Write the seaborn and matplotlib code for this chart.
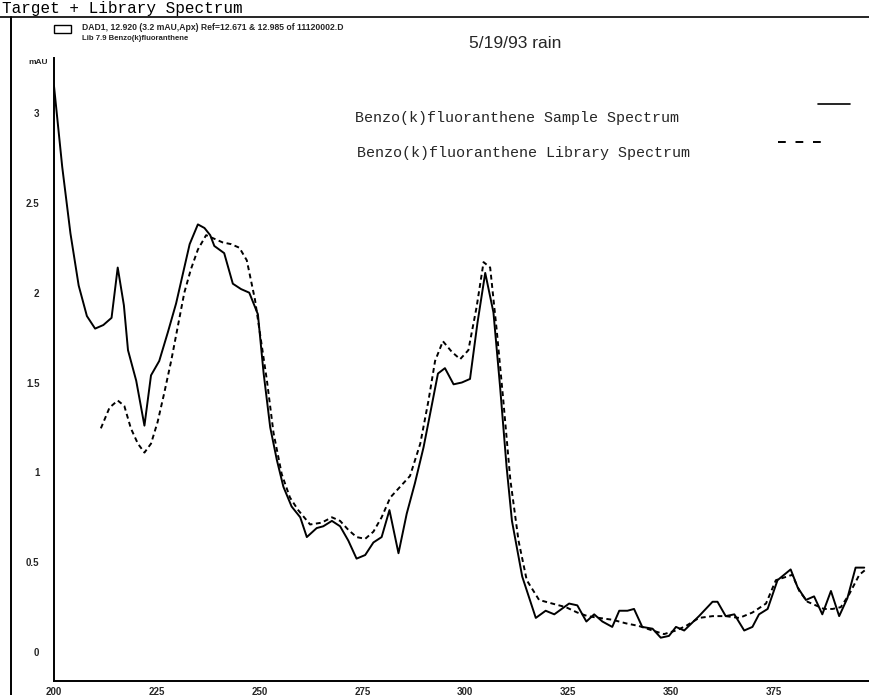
import numpy as np
import pandas as pd
import matplotlib
matplotlib.use("Agg")
import matplotlib.pyplot as plt
from matplotlib.lines import Line2D
from matplotlib.patches import Rectangle
import seaborn as sns

# ---- data ----
sample_nm = [200, 202, 204, 206, 208, 210, 212, 214, 215.5, 217, 218, 220, 222, 223.6,
             225.6, 227.7, 229.7, 231.3, 233, 235, 236.6, 238, 239, 241.4, 243.5, 245.5,
             247.5, 249.6, 251, 252.6, 254.2, 255.8, 257.8, 259.9, 261.5, 263.9, 265.5,
             267.6, 269.6, 271.6, 273.6, 275.7, 277.7, 279.7, 281.6, 283.8, 285.8, 287.8,
             289.9, 291.7, 293.4, 295.1, 297.2, 299.2, 301.2, 303, 304.9, 306.9, 308.5,
             310.1, 311.4, 313.9, 317.2, 319.6, 321.7, 325.3, 327.3, 329.5, 331.4, 333.4,
             335.8, 337.5, 339.5, 341.1, 343.1, 345.6, 347.6, 349.6, 351.3, 353.3, 356.9,
             360.2, 361.4, 363.4, 365.5, 367.9, 369.9, 371.5, 373.6, 376, 379.2, 380.9,
             382.9, 384.9, 386.9, 389, 391, 393, 395, 397.1]
sample_mau = [3.15, 2.70, 2.33, 2.04, 1.87, 1.80, 1.82, 1.86, 2.14, 1.93, 1.68, 1.51, 1.26, 1.54,
              1.62, 1.78, 1.94, 2.10, 2.27, 2.38, 2.36, 2.32, 2.26, 2.22, 2.05, 2.02,
              2.00, 1.88, 1.55, 1.25, 1.07, 0.92, 0.81, 0.75, 0.64, 0.69, 0.70,
              0.73, 0.70, 0.62, 0.52, 0.54, 0.61, 0.64, 0.79, 0.55, 0.77, 0.94,
              1.14, 1.35, 1.55, 1.58, 1.49, 1.50, 1.52, 1.83, 2.11, 1.89, 1.48,
              1.03, 0.73, 0.42, 0.19, 0.23, 0.21, 0.27, 0.26, 0.17, 0.21, 0.17,
              0.14, 0.23, 0.23, 0.24, 0.14, 0.13, 0.08, 0.09, 0.14, 0.12, 0.20,
              0.28, 0.28, 0.20, 0.21, 0.12, 0.14, 0.21, 0.24, 0.40, 0.46, 0.36,
              0.29, 0.31, 0.21, 0.34, 0.20, 0.30, 0.47, 0.47]

library_nm = [211.4, 213.5, 215.5, 217.1, 218.7, 220.4, 222, 223.6, 225.2, 226.8, 228.5,
              230.1, 231.7, 233.3, 235, 237, 239, 241, 243.1, 245.1, 246.9, 248.9,
              251.8, 253.4, 255.4, 257.4, 259.4, 262.3, 265.1, 267.6, 269.6, 271.6,
              273.6, 275.7, 277.7, 279.7, 281.8, 284.2, 286.6, 289.1, 291.1, 292.7,
              294.6, 296.8, 298.8, 300.8, 302.8, 304.5, 306.1, 307.7, 309.3, 311,
              313, 315, 318, 321.2, 324.5, 327.3, 329.8, 332.6, 335.8, 339.1, 342.3,
              345.6, 348.4, 351.3, 353.7, 356.9, 360.2, 363.4, 366.7, 369.9, 373.2,
              375.6, 379.6, 381.3, 383.3, 385.3, 387.3, 389.4, 391.4, 393.4, 395.9, 397.5]
library_mau = [1.245, 1.36, 1.40, 1.37, 1.245, 1.16, 1.11, 1.16, 1.28, 1.44, 1.62,
               1.81, 2.00, 2.13, 2.24, 2.32, 2.30, 2.28, 2.27, 2.25, 2.18, 1.96,
               1.51, 1.22, 0.99, 0.86, 0.79, 0.71, 0.72, 0.75, 0.73, 0.68,
               0.64, 0.63, 0.67, 0.75, 0.86, 0.92, 0.98, 1.16, 1.40, 1.62,
               1.73, 1.67, 1.63, 1.68, 1.92, 2.17, 2.14, 1.79, 1.40, 0.96,
               0.62, 0.40, 0.29, 0.27, 0.25, 0.22, 0.20, 0.19, 0.18, 0.16, 0.145,
               0.12, 0.10, 0.12, 0.145, 0.19, 0.20, 0.20, 0.19, 0.22, 0.27,
               0.40, 0.43, 0.34, 0.28, 0.26, 0.24, 0.24, 0.25, 0.32, 0.43, 0.46]

x_ticks = [200, 225, 250, 275, 300, 325, 350, 375]
x_tick_labels = ["200", "225", "250", "275", "300", "325", "350", "375"]
y_ticks = [0, 0.5, 1, 1.5, 2, 2.5, 3]
y_tick_labels = ["0", "0.5", "1", "1.5", "2", "2.5", "3"]

title_text = "Target + Library Spectrum"
header_line1 = "DAD1, 12.920 (3.2 mAU,Apx) Ref=12.671 & 12.985 of 11120002.D"
header_line2 = "Lib 7.9 Benzo(k)fluoranthene"
date_text = "5/19/93 rain"
legend_sample = "Benzo(k)fluoranthene Sample Spectrum"
legend_library = "Benzo(k)fluoranthene Library Spectrum"
y_unit = "mAU"

# ---- figure ----
sns.set_style("white")
plt.rcParams["font.family"] = ["Liberation Sans", "DejaVu Sans"]

W, H = 870, 695
fig = plt.figure(figsize=(W / 100, H / 100), dpi=100)

def fx(px):
    return px / W

def fy(py):
    return 1 - py / H

ax_left, ax_right, ax_top, ax_bottom = 54, 870, 58, 681
ax = fig.add_axes([fx(ax_left), fy(ax_bottom), (ax_right - ax_left) / W, (ax_bottom - ax_top) / H])

df_s = pd.DataFrame({"nm": sample_nm, "mAU": sample_mau})
df_l = pd.DataFrame({"nm": library_nm, "mAU": library_mau})

sns.lineplot(data=df_s, x="nm", y="mAU", ax=ax, color="black", lw=1.4,
             sort=False, estimator=None)
sns.lineplot(data=df_l, x="nm", y="mAU", ax=ax, color="black", lw=1.4,
             linestyle=(0, (2.5, 1.8)), sort=False, estimator=None)

ax.set_xlim(200, 398.5)
ax.set_ylim(-0.161, 3.306)
ax.set_xlabel("")
ax.set_ylabel("")
for s in ["top", "right"]:
    ax.spines[s].set_visible(False)
for s in ["left", "bottom"]:
    ax.spines[s].set_color("black")
    ax.spines[s].set_linewidth(1.4)
ax.set_xticks(x_ticks)
ax.set_xticklabels(x_tick_labels, fontsize=7, fontweight="bold")
ax.set_yticks(y_ticks)
ax.set_yticklabels(y_tick_labels, fontsize=7, fontweight="bold")
ax.tick_params(axis="both", direction="inout", length=5, width=1.0, color="black", pad=3)
ax.tick_params(axis="x", pad=1.5)
ax.tick_params(axis="y", pad=8)
ax.patch.set_alpha(0)

# ---- surrounding text / frame ----
fig.text(fx(2), fy(9), title_text, family="Liberation Mono", fontsize=11.5,
         va="center", ha="left", color="black")
fig.add_artist(Line2D([fx(0), fx(870)], [fy(17), fy(17)], color="black", lw=1.2))
fig.add_artist(Line2D([fx(11), fx(11)], [fy(17), fy(695)], color="black", lw=1.4))
fig.add_artist(Rectangle((fx(54), fy(33)), 17 / W, 8 / H, fill=False, ec="black", lw=1.0))
fig.text(fx(82), fy(28), header_line1, fontsize=6.2, fontweight="bold", va="center", ha="left")
fig.text(fx(82), fy(38), header_line2, fontsize=5.6, fontweight="bold", va="center", ha="left")
fig.text(fx(28), fy(62), y_unit, fontsize=6, fontweight="bold", va="center", ha="left")
fig.text(fx(515), fy(43), date_text, fontsize=12.5, va="center", ha="center")

fig.text(fx(355), fy(118), legend_sample, family="Liberation Mono", fontsize=10.8,
         va="center", ha="left")
fig.text(fx(357), fy(153), legend_library, family="Liberation Mono", fontsize=10.8,
         va="center", ha="left")
fig.add_artist(Line2D([fx(818), fx(850)], [fy(104), fy(104)], color="black", lw=1.2))
fig.add_artist(Line2D([fx(778), fx(822)], [fy(142), fy(142)], color="black", lw=1.4,
                      linestyle=(0, (4, 5))))

fig.savefig("out.png", dpi=100)
